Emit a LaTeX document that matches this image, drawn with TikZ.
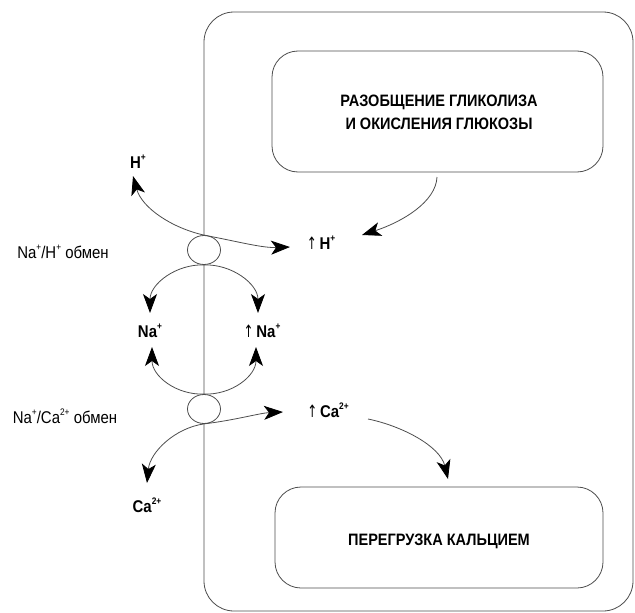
\documentclass[tikz,border=0pt]{standalone}
\usepackage{fontspec}
\setmainfont[FakeStretch=0.88]{Liberation Sans}
\newfontfamily\arrfont[FakeStretch=0.7]{DejaVu Sans}
\usetikzlibrary{arrows.meta,shapes.geometric}
\newcommand{\su}[1]{\raisebox{0.45em}{\fontsize{9.5}{9.5}\selectfont #1}}
\newcommand{\ua}{{\arrfont\mdseries ↑}\,}
\tikzset{
  ln/.style={draw=black!70, line width=0.8pt},
  arr/.style={ln, -{Stealth[length=19pt,width=14pt,inset=5pt,fill=black,color=black]}},
  box/.style={ln, rounded corners=26pt},
  oval/.style={ln, fill=white, ellipse, minimum width=33pt, minimum height=29pt, inner sep=0pt},
  lab/.style={font=\fontsize{17}{18}\selectfont\bfseries, inner sep=0pt},
  side/.style={font=\fontsize{17}{19}\selectfont, inner sep=0pt},
  btxt/.style={font=\fontsize{16.5}{23}\selectfont\bfseries, align=center, inner sep=0pt}
}
\begin{document}
\begin{tikzpicture}[x=1pt,y=-1pt]
\useasboundingbox (0,0) rectangle (635,613);
% cell (its left side is the membrane)
\draw[ln, rounded corners=30pt] (204,12) rectangle (633,611);
% inner boxes
\draw[box] (272,51) rectangle (603,172);
\draw[box] (275,487) rectangle (603,588);
\node[btxt] (glyc) at (439,112) {РАЗОБЩЕНИЕ ГЛИКОЛИЗА\\И ОКИСЛЕНИЯ ГЛЮКОЗЫ};
\node[btxt] (over) at (439,541) {ПЕРЕГРУЗКА КАЛЬЦИЕМ};
\coordinate (glycb) at (437,177);
\coordinate (ovrt) at (448,479);
% exchangers
\node[oval] (ex1) at (204,250) {};
\node[oval] (ex2) at (204,409) {};
% labels
\node[side] (nahl) at (63,252) {Na\su{+}/H\su{+} обмен};
\node[side] (nacal) at (65,416) {Na\su{+}/Ca\su{2+} обмен};
\node[lab] (hout) at (138,162) {H\su{+}};
\node[lab] (hin) at (321,243) {\ua H\su{+}};
\node[lab] (naout) at (150,331) {Na\su{+}};
\node[lab] (nain) at (262,331) {\ua Na\su{+}};
\node[lab] (cain) at (328,410) {\ua Ca\su{2+}};
\node[lab] (caout) at (147,505) {Ca\su{2+}};
\coordinate (hintip) at (290,247);
\coordinate (houttip) at (133,176);
\coordinate (glyctip) at (362,235);
\coordinate (na1l) at (150,313);
\coordinate (na1r) at (258,313);
\coordinate (na2l) at (152,347);
\coordinate (na2r) at (256,347);
\coordinate (caintip) at (283,412);
\coordinate (caouttip) at (147,483);
\coordinate (cafrom) at (368,419);
% arrows
\draw[arr] (ex1.north) .. controls (172,228) and (142,208) .. (houttip);
\draw[arr] (ex1.north) .. controls (240,242) and (262,248) .. (hintip);
\draw[arr] (glycb) .. controls (436,202) and (402,222) .. (glyctip);
\draw[arr] (ex1.south) .. controls (176,264) and (150,284) .. (na1l);
\draw[arr] (ex1.south) .. controls (232,264) and (258,284) .. (na1r);
\draw[arr] (ex2.north) .. controls (176,395) and (152,376) .. (na2l);
\draw[arr] (ex2.north) .. controls (232,395) and (256,376) .. (na2r);
\draw[arr] (ex2.south) .. controls (236,420) and (260,413) .. (caintip);
\draw[arr] (ex2.south) .. controls (175,428) and (150,452) .. (caouttip);
\draw[arr] (cafrom) .. controls (402,426) and (440,446) .. (ovrt);
\end{tikzpicture}
\end{document}
